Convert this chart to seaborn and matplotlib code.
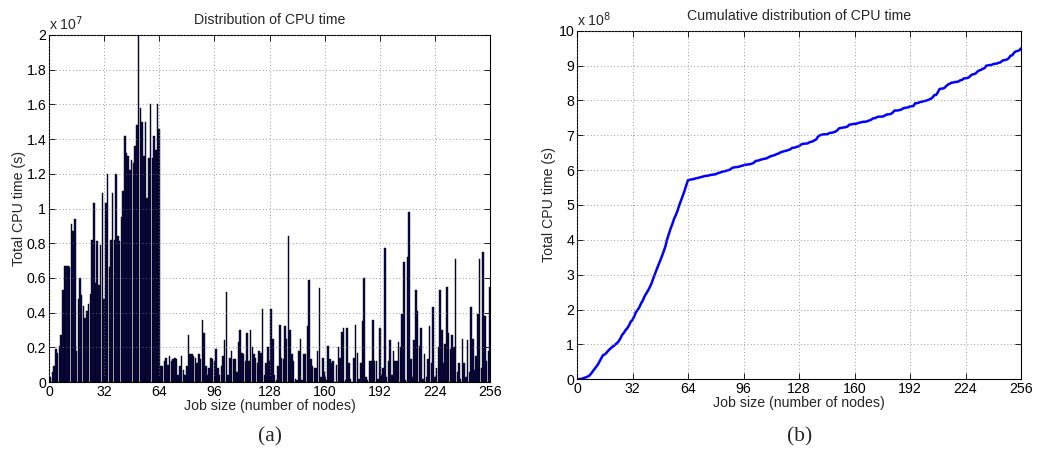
import numpy as np
import pandas as pd
import matplotlib
matplotlib.use("Agg")
import matplotlib.pyplot as plt
from matplotlib.ticker import FuncFormatter, FixedLocator
import seaborn as sns

# ---------------- data (CPU time per job size, units of 1e7 s) ----------------
job_sizes = list(range(1, 257))
cpu_0_64 = [
    0.03, 0.06, 0.09, 0.19, 0.17, 0.21, 0.27, 0.53,
    0.67, 0.67, 0.67, 0.66, 0.91, 0.87, 0.94, 0.18,
    0.48, 0.60, 0.50, 0.44, 0.37, 0.41, 0.45, 0.51,
    0.82, 1.03, 0.57, 0.81, 0.56, 0.79, 1.09, 0.48,
    1.03, 1.20, 0.66, 0.82, 1.09, 0.82, 1.20, 0.84,
    0.81, 0.95, 1.10, 1.42, 1.32, 1.30, 1.22, 1.28,
    1.26, 1.36, 1.48, 2.00, 1.58, 1.50, 1.30, 1.50,
    1.06, 1.29, 1.60, 1.29, 1.42, 1.34, 1.60, 1.46,
]
cpu_65_128 = [
    0.09, 0.09, 0.12, 0.14, 0.10, 0.15, 0.12, 0.13,
    0.14, 0.13, 0.04, 0.09, 0.15, 0.07, 0.04, 0.09,
    0.27, 0.16, 0.16, 0.15, 0.14, 0.11, 0.16, 0.13,
    0.36, 0.28, 0.09, 0.04, 0.08, 0.14, 0.13, 0.12,
    0.19, 0.08, 0.04, 0.09, 0.15, 0.24, 0.52, 0.04,
    0.14, 0.18, 0.13, 0.13, 0.06, 0.23, 0.30, 0.17,
    0.16, 0.12, 0.28, 0.12, 0.30, 0.20, 0.16, 0.14,
    0.11, 0.18, 0.17, 0.42, 0.04, 0.11, 0.20, 0.12,
]
cpu_129_192 = [
    0.42, 0.25, 0.04, 0.01, 0.09, 0.33, 0.14, 0.13,
    0.32, 0.25, 0.84, 0.30, 0.16, 0.12, 0.02, 0.01,
    0.18, 0.25, 0.01, 0.16, 0.16, 0.32, 0.59, 0.13,
    0.09, 0.08, 0.08, 0.18, 0.54, 0.03, 0.14, 0.06,
    0.01, 0.21, 0.13, 0.11, 0.12, 0.00, 0.10, 0.20,
    0.14, 0.29, 0.31, 0.01, 0.31, 0.11, 0.02, 0.00,
    0.14, 0.33, 0.17, 0.02, 0.11, 0.35, 0.60, 0.03,
    0.01, 0.12, 0.12, 0.36, 0.12, 0.12, 0.02, 0.31,
]
cpu_193_256 = [
    0.04, 0.08, 0.77, 0.03, 0.12, 0.24, 0.04, 0.18,
    0.12, 0.12, 0.23, 0.20, 0.39, 0.69, 0.01, 0.72,
    0.98, 0.13, 0.03, 0.24, 0.53, 0.41, 0.21, 0.31,
    0.02, 0.16, 0.03, 0.13, 0.32, 0.11, 0.43, 0.03,
    0.08, 0.20, 0.53, 0.30, 0.11, 0.22, 0.55, 0.28,
    0.19, 0.27, 0.20, 0.71, 0.06, 0.11, 0.02, 0.25,
    0.11, 0.03, 0.24, 0.06, 0.43, 0.25, 0.07, 0.15,
    0.39, 0.71, 0.08, 0.75, 0.38, 0.12, 0.18, 0.55,
]
cpu_time_1e7 = cpu_0_64 + cpu_65_128 + cpu_129_192 + cpu_193_256
x_ticks = [0, 32, 64, 96, 128, 160, 192, 224, 256]
left_yticks = [0, 0.2, 0.4, 0.6, 0.8, 1.0, 1.2, 1.4, 1.6, 1.8, 2.0]
right_yticks = list(range(0, 11))

df = pd.DataFrame({"size": job_sizes, "cpu": cpu_time_1e7})
# cumulative in units of 1e8 s
cum_x = [0] + job_sizes
cum_y = [0.0] + list(np.cumsum(np.array(cpu_time_1e7)) / 10.0)
dfc = pd.DataFrame({"size": cum_x, "cum": cum_y})

# ---------------- style ----------------
sns.set_style("ticks")
plt.rcParams["font.family"] = ["Liberation Sans", "DejaVu Sans"]
FS = 10.2
plt.rcParams["font.size"] = FS

fig = plt.figure(figsize=(10.39, 4.54), dpi=100)
ax1 = fig.add_axes([49 / 1039, 1 - 382 / 454, 441 / 1039, 347 / 454])
ax2 = fig.add_axes([577 / 1039, 1 - 379.3 / 454, 444 / 1039, 348.6 / 454])

sns.barplot(data=df, x="size", y="cpu", native_scale=True, ax=ax1,
            color="#0a0a45", saturation=1, width=0.88,
            edgecolor="#000010", linewidth=0.3)
sns.lineplot(data=dfc, x="size", y="cum", ax=ax2, color="#0000ff", linewidth=1.8)

fmt = FuncFormatter(lambda v, p: "%g" % round(v, 3))
for ax, yt, ylim, lp in [(ax1, left_yticks, (0, 2), 0.5), (ax2, right_yticks, (0, 10), 2)]:
    ax.set_xlim(0, 256)
    ax.set_ylim(*ylim)
    ax.xaxis.set_major_locator(FixedLocator(x_ticks))
    ax.yaxis.set_major_locator(FixedLocator(yt))
    ax.xaxis.set_major_formatter(fmt)
    ax.yaxis.set_major_formatter(fmt)
    ax.grid(True, linestyle=(0, (1, 3)), color="#777777", linewidth=0.6)
    ax.set_axisbelow(False)
    for s in ax.spines.values():
        s.set_visible(True)
        s.set_color("black")
        s.set_linewidth(0.8)
    ax.tick_params(direction="in", length=4, width=0.6, top=True, right=True,
                   labelsize=FS, pad=2, colors="black")
    ax.set_xlabel("Job size (number of nodes)", fontsize=FS, labelpad=0)
    ax.set_ylabel("Total CPU time (s)", fontsize=FS, labelpad=lp)

ax1.set_title("Distribution of CPU time", fontsize=FS, pad=8)
ax2.set_title("Cumulative distribution of CPU time", fontsize=FS, pad=8)
ax1.text(0.0, 1.006, "x 10$^{7}$", transform=ax1.transAxes, ha="left", va="bottom", fontsize=FS)
ax2.text(0.0, 1.006, "x 10$^{8}$", transform=ax2.transAxes, ha="left", va="bottom", fontsize=FS)

fig.text(270 / 1039, 1 - 437 / 454, "(a)", ha="center", va="center",
         fontsize=15.5, family=["Liberation Serif", "DejaVu Serif"])
fig.text(800 / 1039, 1 - 437 / 454, "(b)", ha="center", va="center",
         fontsize=15.5, family=["Liberation Serif", "DejaVu Serif"])

fig.savefig("out.png", dpi=100, facecolor="white")
